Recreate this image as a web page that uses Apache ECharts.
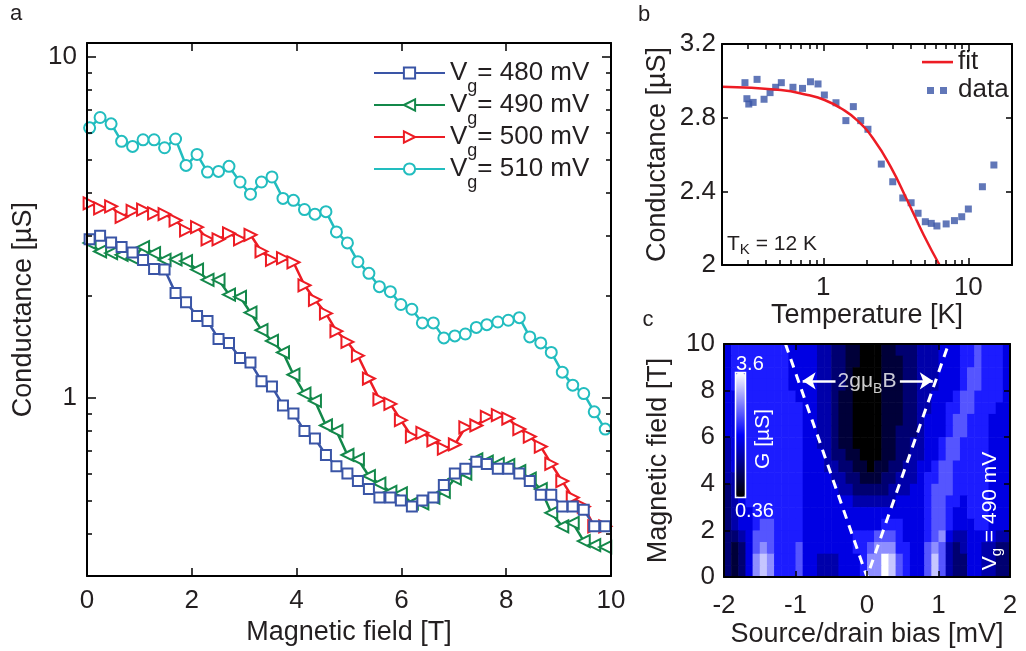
<!DOCTYPE html>
<html>
<head>
<meta charset="utf-8">
<script src="https://cdn.jsdelivr.net/npm/echarts@6/dist/echarts.min.js"></script>
<style>
  html, body { margin: 0; padding: 0; background: #fff; }
  #chart { width: 1026px; height: 651px; }
</style>
</head>
<body>
<div id="chart"></div>
<script>
// ---- panel a: conductance vs magnetic field for four gate voltages ----
const fieldA = [0.05, 0.25, 0.46, 0.66, 0.87, 1.07, 1.28, 1.48, 1.69, 1.89,
  2.10, 2.30, 2.51, 2.71, 2.92, 3.12, 3.33, 3.53, 3.74, 3.94,
  4.15, 4.35, 4.56, 4.76, 4.97, 5.17, 5.38, 5.58, 5.79, 5.99,
  6.20, 6.40, 6.61, 6.81, 7.02, 7.22, 7.43, 7.63, 7.84, 8.04,
  8.25, 8.45, 8.66, 8.86, 9.07, 9.27, 9.48, 9.68, 9.89];
const g480 = [2.92, 2.99, 2.86, 2.77, 2.67, 2.54, 2.39, 2.38, 2.03, 1.91,
  1.74, 1.68, 1.49, 1.45, 1.31, 1.27, 1.12, 1.08, 0.95, 0.90,
  0.80, 0.76, 0.68, 0.63, 0.60, 0.57, 0.54, 0.51, 0.51, 0.50,
  0.48, 0.50, 0.51, 0.555, 0.60, 0.62, 0.65, 0.64, 0.62, 0.62,
  0.60, 0.57, 0.52, 0.52, 0.48, 0.48, 0.47, 0.42, 0.42];
const g490 = [2.85, 2.69, 2.66, 2.63, 2.57, 2.77, 2.66, 2.54, 2.55, 2.52,
  2.38, 2.22, 2.22, 2.01, 1.98, 1.78, 1.58, 1.47, 1.36, 1.17,
  1.03, 0.98, 0.83, 0.80, 0.68, 0.66, 0.59, 0.56, 0.53, 0.525,
  0.49, 0.49, 0.51, 0.53, 0.58, 0.60, 0.66, 0.65, 0.64, 0.635,
  0.61, 0.58, 0.54, 0.46, 0.42, 0.43, 0.38, 0.37, 0.365];
const g500 = [3.72, 3.60, 3.65, 3.40, 3.54, 3.57, 3.48, 3.46, 3.32, 3.10,
  3.17, 2.92, 2.92, 3.04, 2.92, 3.01, 2.69, 2.54, 2.57, 2.50,
  2.14, 1.94, 1.77, 1.57, 1.46, 1.33, 1.14, 0.99, 0.96, 0.86,
  0.77, 0.79, 0.75, 0.71, 0.73, 0.82, 0.83, 0.88, 0.89, 0.87,
  0.81, 0.77, 0.72, 0.64, 0.57, 0.51, 0.48, 0.42, 0.42];
const g510 = [6.2, 6.65, 6.37, 5.66, 5.47, 5.72, 5.72, 5.42, 5.75, 4.81,
  5.18, 4.60, 4.62, 4.78, 4.30, 3.96, 4.30, 4.45, 3.85, 3.80,
  3.57, 3.46, 3.52, 3.07, 2.85, 2.51, 2.32, 2.12, 2.05, 1.88,
  1.82, 1.66, 1.66, 1.50, 1.52, 1.54, 1.61, 1.64, 1.67, 1.69,
  1.72, 1.51, 1.45, 1.36, 1.19, 1.09, 1.03, 0.91, 0.81];

// ---- panel b: conductance vs temperature ----
const tempK = [0.288, 0.297, 0.306, 0.328, 0.349, 0.390, 0.429, 0.469, 0.513, 0.617,
  0.718, 0.815, 0.919, 1.016, 1.222, 1.43, 1.61, 1.81, 2.03, 2.51,
  3.01, 3.53, 4.03, 4.50, 5.05, 5.55, 6.07, 7.03, 8.02, 9.0,
  10.0, 12.5, 15.0];
const condT = [2.990, 2.903, 2.874, 2.883, 3.008, 2.900, 2.936, 2.965, 2.990, 2.965,
  2.959, 2.995, 2.983, 2.923, 2.881, 2.784, 2.860, 2.784, 2.737, 2.548,
  2.452, 2.364, 2.338, 2.281, 2.235, 2.226, 2.212, 2.223, 2.241, 2.262,
  2.304, 2.425, 2.543];
const fitT = [0.2, 0.51, 0.78, 1.02, 1.32, 1.72, 2.24, 2.91, 3.78, 4.92, 6.33];
const fitG = [2.968, 2.950, 2.923, 2.896, 2.851, 2.784, 2.679, 2.534, 2.353, 2.163, 2.0];

// ---- panel c: conductance map, bias x field ----
const biasCols = [-1.95, -1.85, -1.75, -1.65, -1.55, -1.45, -1.35, -1.25, -1.15, -1.05,
  -0.95, -0.85, -0.75, -0.65, -0.55, -0.45, -0.35, -0.25, -0.15, -0.05,
  0.05, 0.15, 0.25, 0.35, 0.45, 0.55, 0.65, 0.75, 0.85, 0.95,
  1.05, 1.15, 1.25, 1.35, 1.45, 1.55, 1.65, 1.75, 1.85, 1.95];
const fieldRows = [9.75, 9.25, 8.75, 8.25, 7.75, 7.25, 6.75, 6.25, 5.75, 5.25,
  4.75, 4.25, 3.75, 3.25, 2.75, 2.25, 1.75, 1.25, 0.75, 0.25];
// one string per field row, one digit per bias column: G = 0.36 + 0.36 * digit (uS)
const mapRows = [
  '4555555554' + '4443322110' + '0011222333' + '4445565554',
  '4555555554' + '4443322110' + '0011122333' + '4445565554',
  '4555555554' + '4443322100' + '0011122333' + '4445665554',
  '4555555554' + '4443322100' + '0011122333' + '4445665554',
  '4455555555' + '4443321100' + '0011122334' + '4456655554',
  '4455555555' + '5443321100' + '0011122334' + '4556655544',
  '4455555555' + '5443321100' + '0011122344' + '4566555444',
  '4455555555' + '5443321100' + '0011222344' + '4566555444',
  '3455555555' + '5443321100' + '0011223344' + '5665555444',
  '3455555555' + '5444322110' + '0011223344' + '5665555444',
  '3445555555' + '5444332211' + '0112233445' + '6655555444',
  '3345555555' + '5444433221' + '1122333455' + '6655555444',
  '2345555555' + '5444443322' + '2223334456' + '6655555444',
  '2345555555' + '5444444433' + '3333444456' + '6554555444',
  '2344555555' + '5444444444' + '4444444456' + '6544555444',
  '2344566555' + '5444444444' + '4455544456' + '6544455444',
  '2234666555' + '5444444455' + '5666544456' + '7433444433',
  '2124676555' + '6444444455' + '6777554467' + '6323443322',
  '2124787555' + '6443334445' + '7798654468' + '6322443322',
  '2124787555' + '6443334445' + '7798654468' + '6322443322'
];
const vBias = [-1.14, 0, 1.14];
const vField = [10, 0, 10];

const FONT = 'Liberation Sans';
const INK = '#231f20';

const heatData = [];
mapRows.forEach((row, r) => {
  for (let c = 0; c < biasCols.length; c++) {
    const d = Number(row[c]);
    if (!isNaN(d)) heatData.push([biasCols[c], fieldRows[r], 0.36 + 0.36 * d]);
  }
});

const tickFont = { fontFamily: FONT, fontSize: 26, color: INK };
const nameFont = { fontFamily: FONT, fontSize: 27, color: INK };
const frame = { show: true, onZero: false, lineStyle: { color: '#000', width: 2 } };
const ticks = len => ({ show: true, inside: true, length: len, lineStyle: { color: '#000', width: 1.5 } });
const minor = { show: true, splitNumber: 9, length: 5, lineStyle: { color: '#000', width: 1.5 } };
const noSplit = { show: false };
const logLabel = v => (Math.abs(v - 1) < 1e-9 || Math.abs(v - 10) < 1e-9) ? String(Math.round(v)) : '';

function lineA(name, values, color, symbol, rotate, size) {
  return {
    name: name, type: 'line', xAxisIndex: 0, yAxisIndex: 0,
    data: fieldA.map((f, i) => [f, values[i]]),
    symbol: symbol, symbolSize: size, symbolRotate: rotate,
    lineStyle: { color: color, width: 2.5 },
    itemStyle: { color: color, borderColor: color, borderWidth: 2 },
    emphasis: { disabled: true }
  };
}

const chart = echarts.init(document.getElementById('chart'));
chart.setOption({
  animation: false,
  backgroundColor: '#fff',
  grid: [
    { left: 87, top: 43, width: 524, height: 535 },
    { left: 722, top: 44, width: 290, height: 221 },
    { left: 724, top: 344, width: 286, height: 233 }
  ],
  xAxis: [
    { gridIndex: 0, type: 'value', min: 0, max: 10, interval: 2, position: 'bottom', z: 10,
      axisLine: frame, axisTick: ticks(8), splitLine: noSplit,
      axisLabel: Object.assign({ margin: 12 }, tickFont),
      name: 'Magnetic field [T]', nameLocation: 'middle', nameGap: 40, nameTextStyle: nameFont },
    { gridIndex: 0, type: 'value', min: 0, max: 10, interval: 2, position: 'top', z: 10,
      axisLine: frame, axisTick: ticks(8), splitLine: noSplit, axisLabel: { show: false } },
    { gridIndex: 1, type: 'log', logBase: 10, min: 0.2, max: 20, position: 'bottom', z: 10,
      axisLine: frame, axisTick: ticks(7), minorTick: minor, splitLine: noSplit, minorSplitLine: noSplit,
      axisLabel: Object.assign({ margin: 10, formatter: logLabel, showMinLabel: false, showMaxLabel: false }, tickFont),
      name: 'Temperature [K]', nameLocation: 'middle', nameGap: 27, nameTextStyle: nameFont },
    { gridIndex: 1, type: 'log', logBase: 10, min: 0.2, max: 20, position: 'top', z: 10,
      axisLine: frame, axisTick: ticks(7), minorTick: minor, splitLine: noSplit, minorSplitLine: noSplit,
      axisLabel: { show: false } },
    { gridIndex: 2, type: 'value', min: -2, max: 2, interval: 1, position: 'bottom', z: 10,
      axisLine: frame, axisTick: ticks(6), splitLine: noSplit,
      axisLabel: Object.assign({ margin: 16 }, tickFont),
      name: 'Source/drain bias [mV]', nameLocation: 'middle', nameGap: 44, nameTextStyle: nameFont },
    { gridIndex: 2, type: 'value', min: -2, max: 2, interval: 1, position: 'top', z: 10,
      axisLine: frame, axisTick: ticks(6), splitLine: noSplit, axisLabel: { show: false } }
  ],
  yAxis: [
    { gridIndex: 0, type: 'log', logBase: 10, min: 0.3, max: 11, position: 'left', z: 10,
      axisLine: frame, axisTick: ticks(9), minorTick: minor, splitLine: noSplit, minorSplitLine: noSplit,
      axisLabel: Object.assign({ margin: 10, formatter: logLabel, showMinLabel: false, showMaxLabel: false }, tickFont),
      name: 'Conductance [\u00b5S]', nameLocation: 'middle', nameGap: 45, nameTextStyle: nameFont },
    { gridIndex: 0, type: 'log', logBase: 10, min: 0.3, max: 11, position: 'right', z: 10,
      axisLine: frame, axisTick: ticks(9), minorTick: minor, splitLine: noSplit, minorSplitLine: noSplit,
      axisLabel: { show: false } },
    { gridIndex: 1, type: 'value', min: 2, max: 3.2, interval: 0.4, position: 'left', z: 10,
      axisLine: frame, axisTick: ticks(6), splitLine: noSplit,
      axisLabel: Object.assign({ margin: 6 }, tickFont),
      name: 'Conductance [\u00b5S]', nameLocation: 'middle', nameGap: 51, nameTextStyle: nameFont },
    { gridIndex: 1, type: 'value', min: 2, max: 3.2, interval: 0.4, position: 'right', z: 10,
      axisLine: frame, axisTick: ticks(6), splitLine: noSplit, axisLabel: { show: false } },
    { gridIndex: 2, type: 'value', min: 0, max: 10, interval: 2, position: 'left', z: 10,
      axisLine: frame, axisTick: ticks(6), splitLine: noSplit,
      axisLabel: Object.assign({ margin: 9 }, tickFont),
      name: 'Magnetic field [T]', nameLocation: 'middle', nameGap: 52, nameTextStyle: nameFont },
    { gridIndex: 2, type: 'value', min: 0, max: 10, interval: 2, position: 'right', z: 10,
      axisLine: frame, axisTick: ticks(6), splitLine: noSplit, axisLabel: { show: false } }
  ],
  legend: [
    { data: ['480', '490', '500', '510'], left: 373, top: 50, orient: 'vertical',
      itemWidth: 71, itemHeight: 14, itemGap: -14, padding: 0, selectedMode: false,
      formatter: name => '{v|V}{g|g}{v|= ' + name + ' mV}',
      textStyle: { color: INK, fontFamily: FONT, fontSize: 26,
        rich: { v: { fontFamily: FONT, fontSize: 26, color: INK },
                g: { fontFamily: FONT, fontSize: 18, color: INK, lineHeight: 18, padding: [28, 0, 0, 0] } } } },
    { data: [{ name: 'fit', icon: 'path://M0,0M31,12M0,4.8h31v2.6h-31z' },
             { name: 'data', icon: 'path://M0,0M31,12M5,3h7v7h-7zM18,3h7v7h-7z' }],
      left: 922, top: 49, orient: 'vertical', itemWidth: 31, itemHeight: 12, itemGap: 2, padding: 0,
      selectedMode: false, textStyle: { color: INK, fontFamily: FONT, fontSize: 26 } }
  ],
  visualMap: {
    type: 'continuous', seriesIndex: 6, dimension: 2, min: 0.36, max: 3.6,
    inRange: { color: ['#000000', '#0000ff', '#ffffff'] },
    left: 736, top: 373, itemWidth: 9, itemHeight: 124, padding: 0,
    calculable: false, hoverLink: false, text: null, showLabel: false,
    textStyle: { color: 'transparent' }
  },
  series: [
    lineA('490', g490, '#13884a', 'emptyTriangle', 90, 12),
    lineA('500', g500, '#ed1c24', 'emptyTriangle', -90, 12),
    lineA('510', g510, '#22bdbf', 'emptyCircle', 0, 11),
    lineA('480', g480, '#3a55a6', 'emptyRect', 0, 10),
    { name: 'fit', type: 'line', xAxisIndex: 2, yAxisIndex: 2, smooth: true, symbol: 'none',
      data: fitT.map((t, i) => [t, fitG[i]]),
      lineStyle: { color: '#ed1c24', width: 2.5 }, itemStyle: { color: '#ed1c24' } },
    { name: 'data', type: 'scatter', xAxisIndex: 2, yAxisIndex: 2, symbol: 'rect', symbolSize: 7,
      data: tempK.map((t, i) => [t, condT[i]]), itemStyle: { color: '#3a55a6' } },
    { name: 'map', type: 'custom', xAxisIndex: 4, yAxisIndex: 4, z: 1, data: heatData,
      encode: { x: 0, y: 1 },
      renderItem: (params, api) => {
        const b = api.value(0), f = api.value(1);
        const p0 = api.coord([b - 0.05, f + 0.25]);
        const p1 = api.coord([b + 0.05, f - 0.25]);
        return { type: 'rect',
          shape: { x: p0[0], y: p0[1], width: p1[0] - p0[0] + 0.6, height: p1[1] - p0[1] + 0.6 },
          style: { fill: api.visual('color') } };
      } },
    { name: 'zeeman', type: 'line', xAxisIndex: 4, yAxisIndex: 4, z: 4, symbol: 'none',
      data: vBias.map((v, i) => [v, vField[i]]),
      lineStyle: { color: '#fff', width: 3, type: [9, 7] },
      markLine: { silent: true, symbol: ['none', 'arrow'], symbolSize: 13, label: { show: false },
        lineStyle: { color: '#fff', width: 2.5, type: 'solid' },
        data: [[{ coord: [-0.44, 8.42] }, { coord: [-0.9, 8.42] }],
               [{ coord: [0.46, 8.42] }, { coord: [0.92, 8.42] }]] } },
    { name: 'splitLabel', type: 'scatter', xAxisIndex: 4, yAxisIndex: 4, z: 5, symbolSize: 0,
      data: [[0.0, 8.42]], silent: true,
      label: { show: true, position: 'inside', formatter: '{t|2gμ}{s|B}{t|B}',
        rich: { t: { color: '#fff', fontFamily: FONT, fontSize: 21 },
                s: { color: '#fff', fontFamily: FONT, fontSize: 14, lineHeight: 14, padding: [16, 0, 0, 0] } } } }
  ],
  graphic: [
    { type: 'text', x: 16, y: 14, style: { text: 'a', fill: INK, fontFamily: FONT, fontSize: 22, align: 'center', verticalAlign: 'middle' } },
    { type: 'text', x: 644, y: 15, style: { text: 'b', fill: INK, fontFamily: FONT, fontSize: 22, align: 'center', verticalAlign: 'middle' } },
    { type: 'text', x: 648, y: 320, style: { text: 'c', fill: INK, fontFamily: FONT, fontSize: 22, align: 'center', verticalAlign: 'middle' } },
    { type: 'text', x: 727, y: 244, z: 20,
      style: { text: '{t|T}{s|K}{t| = 12 K}', align: 'left', verticalAlign: 'middle',
        rich: { t: { fill: INK, fontFamily: FONT, fontSize: 21 },
                s: { fill: INK, fontFamily: FONT, fontSize: 15, lineHeight: 15, padding: [12, 0, 0, 0] } } } },
    { type: 'rect', z: 20, shape: { x: 735.5, y: 372.5, width: 10, height: 125 },
      style: { fill: null, stroke: '#fff', lineWidth: 1.5 } },
    { type: 'text', x: 736, y: 364, z: 20,
      style: { text: '3.6', fill: '#fff', fontFamily: FONT, fontSize: 20, align: 'left', verticalAlign: 'middle' } },
    { type: 'text', x: 735, y: 511, z: 20,
      style: { text: '0.36', fill: '#fff', fontFamily: FONT, fontSize: 20, align: 'left', verticalAlign: 'middle' } },
    { type: 'text', x: 763, y: 439, z: 20, rotation: Math.PI / 2,
      style: { text: 'G [\u00b5S]', fill: '#fff', fontFamily: FONT, fontSize: 21, align: 'center', verticalAlign: 'middle' } },
    { type: 'text', x: 990, y: 511, z: 20, rotation: Math.PI / 2,
      style: { text: '{t|V}{s|g}{t| = 490 mV}', align: 'center', verticalAlign: 'middle',
        rich: { t: { fill: '#fff', fontFamily: FONT, fontSize: 21 },
                s: { fill: '#fff', fontFamily: FONT, fontSize: 15, lineHeight: 15, padding: [14, 0, 0, 0] } } } }
  ]
});
</script>
</body>
</html>
